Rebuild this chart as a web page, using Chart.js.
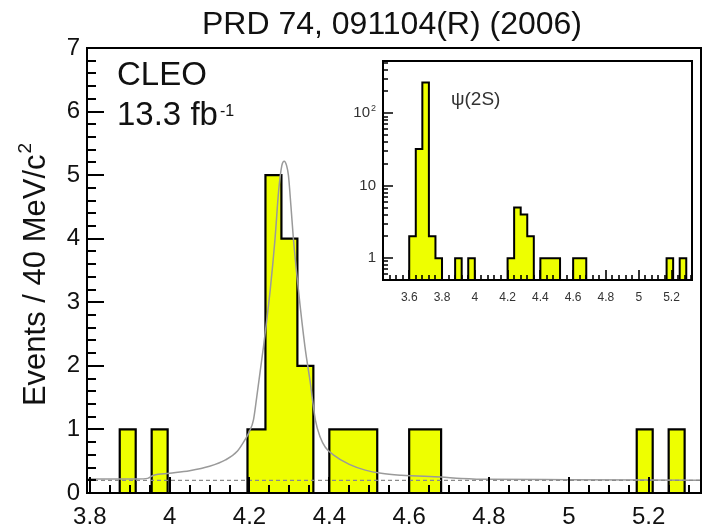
<!DOCTYPE html>
<html>
<head>
<meta charset="utf-8">
<script src="https://cdn.jsdelivr.net/npm/chart.js@4.4.0/dist/chart.umd.min.js"></script>
<style>
  html, body { margin: 0; padding: 0; background: #fff; }
  #wrap { position: relative; width: 705px; height: 532px; }
  #mainChart { position: absolute; left: 0; top: 0; }
  #insetChart { position: absolute; left: 340px; top: 50px; }
</style>
</head>
<body>
<div id="wrap">
  <canvas id="mainChart" width="705" height="532"></canvas>
  <canvas id="insetChart" width="365" height="262"></canvas>
</div>
<script>
// --- main plot: J/psi pi+ pi- mass, events per 40 MeV bin ---
var binEdges = [3.793, 3.875, 3.915, 3.955, 3.995, 4.195, 4.24, 4.28, 4.32, 4.36, 4.40, 4.52, 4.60, 4.68, 5.17, 5.21, 5.25, 5.29, 5.331];
var binCounts = [0, 1, 0, 1, 0, 1, 5, 4, 2, 0, 1, 0, 1, 0, 1, 0, 1, 0];

// fit curve
var fitMass = [3.793, 3.85, 3.92, 3.945, 3.96, 4.00, 4.05, 4.10, 4.14, 4.17, 4.19, 4.20, 4.21, 4.218, 4.235, 4.252, 4.264, 4.273, 4.281, 4.287, 4.293, 4.2975, 4.304, 4.31, 4.3225, 4.339, 4.352, 4.365, 4.377, 4.39, 4.41, 4.45, 4.49, 4.53, 4.58, 4.68, 4.73, 4.80, 5.00, 5.20, 5.331];
var fitEvents = [0.22, 0.22, 0.22, 0.23, 0.28, 0.31, 0.35, 0.42, 0.52, 0.66, 0.85, 0.97, 1.15, 1.5, 2.3, 3.2, 4.0, 4.75, 5.15, 5.22, 5.15, 5.0, 4.5, 4.0, 3.2, 2.3, 1.75, 1.15, 0.88, 0.72, 0.6, 0.45, 0.36, 0.31, 0.28, 0.25, 0.23, 0.215, 0.21, 0.205, 0.2];

// flat background (dashed)
var bkgMass = [3.793, 5.331];
var bkgEvents = [0.2, 0.2];

var xRange = [3.793, 5.331];
var yRange = [0, 7];
var xTickValues = [3.8, 4.0, 4.2, 4.4, 4.6, 4.8, 5.0, 5.2];
var xTickLabels = ['3.8', '4', '4.2', '4.4', '4.6', '4.8', '5', '5.2'];
var yTickValues = [0, 1, 2, 3, 4, 5, 6, 7];
var yTickLabels = ['0', '1', '2', '3', '4', '5', '6', '7'];

// --- inset: wider range, log scale ---
var insetEdges = [3.44, 3.60, 3.64, 3.68, 3.72, 3.76, 3.80, 3.88, 3.92, 3.96, 4.00, 4.20, 4.24, 4.28, 4.32, 4.36, 4.40, 4.52, 4.60, 4.68, 5.17, 5.21, 5.25, 5.29, 5.325];
var insetCounts = [0, 2, 32, 265, 2, 1, 0, 1, 0, 1, 0, 1, 5, 4, 2, 0, 1, 0, 1, 0, 1, 0, 1, 0];
var insetXRange = [3.44, 5.325];
var insetYRange = [0.5, 525];
var insetXTickValues = [3.6, 3.8, 4.0, 4.2, 4.4, 4.6, 4.8, 5.0, 5.2];
var insetXTickLabels = ['3.6', '3.8', '4', '4.2', '4.4', '4.6', '4.8', '5', '5.2'];
var insetYTickValues = [1, 10, 100];
var insetYTickLabels = ['1', '10', '10'];
var insetYTickSup = ['', '', '2'];

var FONT = '"Liberation Sans", Arial, Helvetica, sans-serif';
var YELLOW = 'rgb(238,255,0)';

// histogram as a stepped outline: each bin starts at its lower edge.
// empty bins sit on the axis floor (needed on the log inset)
function histPoints(edges, counts, floor) {
    var pts = [];
    for (var i = 0; i < counts.length; i++) {
        pts.push({ x: edges[i], y: counts[i] > 0 ? counts[i] : floor });
    }
    pts.push({ x: edges[edges.length - 1], y: floor });
    return pts;
}

function pairPoints(xs, ys) {
    return xs.map(function (x, i) { return { x: x, y: ys[i] }; });
}

// frame, inward ticks, labels and text of the main pad
var mainDecor = {
    id: 'mainDecor',
    afterDatasetsDraw: function (chart) {
        var ctx = chart.ctx;
        var a = chart.chartArea;
        var xs = chart.scales.x, ys = chart.scales.y;
        ctx.save();
        ctx.strokeStyle = '#000';
        ctx.lineWidth = 2;

        // x ticks every 0.05, long at 0.2
        ctx.beginPath();
        for (var k = Math.ceil(xRange[0] / 0.05); k * 0.05 <= xRange[1]; k++) {
            var px = Math.round(xs.getPixelForValue(k * 0.05));
            var len = (k % 4 === 0) ? 16 : 8;
            ctx.moveTo(px, a.bottom);
            ctx.lineTo(px, a.bottom - len);
        }
        // y ticks every 0.2, long at integers
        for (var j = 0; j <= 35; j++) {
            var py = Math.round(ys.getPixelForValue(j * 0.2));
            var ylen = (j % 5 === 0) ? 17 : 9;
            ctx.moveTo(a.left, py);
            ctx.lineTo(a.left + ylen, py);
        }
        ctx.stroke();

        ctx.strokeRect(a.left, a.top, a.right - a.left, a.bottom - a.top);

        // tick labels
        ctx.fillStyle = '#111';
        ctx.font = '24px ' + FONT;
        ctx.textAlign = 'center';
        ctx.textBaseline = 'middle';
        xTickValues.forEach(function (v, i) {
            ctx.fillText(xTickLabels[i], xs.getPixelForValue(v), 517);
        });
        ctx.textAlign = 'right';
        yTickValues.forEach(function (v, i) {
            ctx.fillText(yTickLabels[i], 80, ys.getPixelForValue(v));
        });

        // title
        ctx.textAlign = 'center';
        ctx.font = '32px ' + FONT;
        ctx.fillText('PRD 74, 091104(R) (2006)', 392, 25);

        // y axis title, rotated
        ctx.save();
        ctx.translate(36, 275);
        ctx.rotate(-Math.PI / 2);
        ctx.font = '31px ' + FONT;
        var main = 'Events / 40 MeV/c';
        var wMain = ctx.measureText(main).width;
        ctx.font = '19px ' + FONT;
        var wSup = ctx.measureText('2').width;
        var x0 = -(wMain + wSup) / 2;
        ctx.textAlign = 'left';
        ctx.font = '31px ' + FONT;
        ctx.fillText(main, x0, 0);
        ctx.font = '19px ' + FONT;
        ctx.fillText('2', x0 + wMain + 1, -10);
        ctx.restore();

        // experiment label
        ctx.textAlign = 'left';
        ctx.font = '33px ' + FONT;
        ctx.fillText('CLEO', 117, 76);
        ctx.fillText('13.3 fb', 117, 116);
        var wl = ctx.measureText('13.3 fb').width;
        ctx.font = '16px ' + FONT;
        ctx.fillText('-1', 117 + wl + 2, 112);
        ctx.restore();
    }
};

new Chart(document.getElementById('mainChart').getContext('2d'), {
    type: 'line',
    data: {
        datasets: [{
            label: 'data',
            data: histPoints(binEdges, binCounts, 0),
            stepped: true,
            fill: 'origin',
            backgroundColor: YELLOW,
            borderColor: '#000',
            borderWidth: 2.2,
            pointRadius: 0,
            order: 3
        }, {
            label: 'fit',
            data: pairPoints(fitMass, fitEvents),
            borderColor: '#9a9a9a',
            borderWidth: 1.5,
            cubicInterpolationMode: 'monotone',
            fill: false,
            pointRadius: 0,
            order: 2
        }, {
            label: 'background',
            data: pairPoints(bkgMass, bkgEvents),
            borderColor: '#8a8a8a',
            borderWidth: 1.2,
            borderDash: [4, 3],
            fill: false,
            pointRadius: 0,
            order: 1
        }]
    },
    options: {
        responsive: false,
        animation: false,
        devicePixelRatio: 1,
        layout: { padding: { left: 87, top: 48, right: 4, bottom: 39 } },
        plugins: { legend: { display: false }, tooltip: { enabled: false } },
        scales: {
            x: { type: 'linear', min: xRange[0], max: xRange[1], display: false },
            y: { type: 'linear', min: yRange[0], max: yRange[1], display: false }
        }
    },
    plugins: [mainDecor]
});

// inset pad: white box, log ticks, labels
var insetDecor = {
    id: 'insetDecor',
    beforeDraw: function (chart) {
        var a = chart.chartArea;
        chart.ctx.save();
        chart.ctx.fillStyle = '#fff';
        chart.ctx.fillRect(a.left, a.top, a.right - a.left, a.bottom - a.top);
        chart.ctx.restore();
    },
    afterDatasetsDraw: function (chart) {
        var ctx = chart.ctx;
        var a = chart.chartArea;
        var xs = chart.scales.x, ys = chart.scales.y;
        ctx.save();
        ctx.strokeStyle = '#000';
        ctx.lineWidth = 1.6;
        ctx.beginPath();
        for (var k = Math.ceil(insetXRange[0] / 0.04); k * 0.04 <= insetXRange[1]; k++) {
            var px = Math.round(xs.getPixelForValue(k * 0.04));
            var len = (k % 5 === 0) ? 10 : 5;
            ctx.moveTo(px, a.bottom);
            ctx.lineTo(px, a.bottom - len);
        }
        [0.1, 1, 10, 100].forEach(function (d) {
            for (var m = 1; m <= 9; m++) {
                var v = m * d;
                if (v < insetYRange[0] || v > insetYRange[1]) continue;
                var py = Math.round(ys.getPixelForValue(v));
                ctx.moveTo(a.left, py);
                ctx.lineTo(a.left + (m === 1 ? 10 : 5), py);
            }
        });
        ctx.stroke();
        ctx.lineWidth = 2;
        ctx.strokeRect(a.left, a.top, a.right - a.left, a.bottom - a.top);

        ctx.fillStyle = '#333';
        ctx.font = '12px ' + FONT;
        ctx.textAlign = 'center';
        ctx.textBaseline = 'middle';
        insetXTickValues.forEach(function (v, i) {
            ctx.fillText(insetXTickLabels[i], xs.getPixelForValue(v), 248);
        });
        insetYTickValues.forEach(function (v, i) {
            var py = ys.getPixelForValue(v);
            ctx.font = '15px ' + FONT;
            if (insetYTickSup[i]) {
                ctx.textAlign = 'right';
                ctx.fillText(insetYTickLabels[i], 30, py);
                ctx.font = '9px ' + FONT;
                ctx.textAlign = 'left';
                ctx.fillText(insetYTickSup[i], 31, py - 5);
            } else {
                ctx.textAlign = 'right';
                ctx.fillText(insetYTickLabels[i], 36, py);
            }
        });

        ctx.font = '19px ' + FONT;
        ctx.textAlign = 'left';
        ctx.fillText('\u03C8(2S)', 111, 50);
        ctx.restore();
    }
};

new Chart(document.getElementById('insetChart').getContext('2d'), {
    type: 'line',
    data: {
        datasets: [{
            label: 'inset',
            data: histPoints(insetEdges, insetCounts, insetYRange[0]),
            stepped: true,
            fill: 'start',
            backgroundColor: YELLOW,
            borderColor: '#000',
            borderWidth: 2,
            pointRadius: 0
        }]
    },
    options: {
        responsive: false,
        animation: false,
        devicePixelRatio: 1,
        layout: { padding: { left: 43, top: 11, right: 13, bottom: 32 } },
        plugins: { legend: { display: false }, tooltip: { enabled: false } },
        scales: {
            x: { type: 'linear', min: insetXRange[0], max: insetXRange[1], display: false },
            y: { type: 'logarithmic', min: insetYRange[0], max: insetYRange[1], display: false }
        }
    },
    plugins: [insetDecor]
});
</script>
</body>
</html>
